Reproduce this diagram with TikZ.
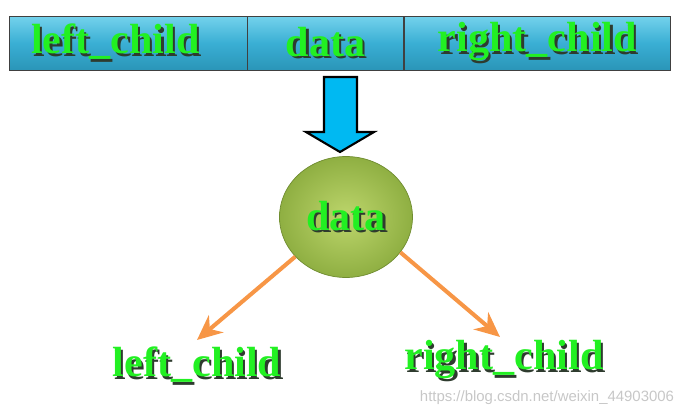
\documentclass[tikz,border=0pt]{standalone}
\usepackage{fontspec}
\setmainfont{Liberation Serif}
\usepackage{tikz}
\usetikzlibrary{arrows.meta,positioning,shapes.geometric,calc}
\definecolor{bleucase}{HTML}{3AAFD4}
\definecolor{bleufonce}{HTML}{2A95B8}
\definecolor{bleuclair}{HTML}{74D2EC}
\definecolor{cyanfleche}{HTML}{00B9F2}
\definecolor{olive}{HTML}{8FAF42}
\definecolor{olivefonce}{HTML}{6F8C30}
\definecolor{olivehaut}{HTML}{BDD66C}
\definecolor{orange}{HTML}{F79646}
\definecolor{vertfluo}{HTML}{22F022}
\definecolor{ombre}{HTML}{2E3B2E}
\newcommand\ombretxt[1]{\rlap{\hspace{1.3pt}\raisebox{-1.3pt}{\color{ombre}#1}}#1}
\tikzset{
  case/.style={draw=black!75,top color=bleuclair,bottom color=bleufonce,middle color=bleucase,
               minimum height=1.08cm,inner sep=0pt,text=vertfluo,
               font=\bfseries\fontsize{24}{25}\selectfont},
  etiq/.style={text=vertfluo,inner sep=0pt,font=\bfseries\fontsize{24}{25}\selectfont},
  fleche/.style={-{Stealth[length=5mm,width=4.5mm]},line width=2.3pt,color=orange},
}

\begin{document}
\begin{tikzpicture}[x=0.02cm,y=-0.02cm]
  \useasboundingbox (0,0) rectangle (684,416);
  % le noeud en memoire
  \node[case,minimum width=4.76cm] (gauche) at (128,43) {\hspace*{-0.45cm}\ombretxt{left\_child}\hspace*{0.05cm}};
  \node[case,minimum width=3.12cm,right=0pt of gauche] (donnee) {\ombretxt{data}};
  \node[case,minimum width=5.32cm,right=0pt of donnee] (droite) {\ombretxt{right\_child}};
  % fleche bleue
  \coordinate (haut) at (340.5,77);
  \draw[fill=cyanfleche,draw=black,line width=1.2pt,line join=miter]
    (haut) ++(-16.5,0) -- ++(0,55) -- ++(-18,0) -- (340,152) -- (374,132) -- ++(-17,0) -- ++(0,-55) -- cycle;
  % le noeud de l'arbre
  \node[ellipse,draw=olivefonce,thin,inner color=olivehaut,outer color=olive,
        minimum width=2.66cm,minimum height=2.42cm,etiq] (racine) at (346,217) {\ombretxt{data}};
  \node[etiq] (fg) at (197,366) {\ombretxt{left\_child}};
  \node[etiq] (fd) at (504,361) {\ombretxt{right\_child}};
  \draw[fleche] (racine.218) -- (197,340);
  \draw[fleche] (racine.-33) -- (500,337);
  \node[text=black!22,font=\fontspec{Liberation Sans}\fontsize{8.5}{9}\selectfont] (url) at (547,398) {https://blog.csdn.net/weixin\_44903006};
\end{tikzpicture}
\end{document}
